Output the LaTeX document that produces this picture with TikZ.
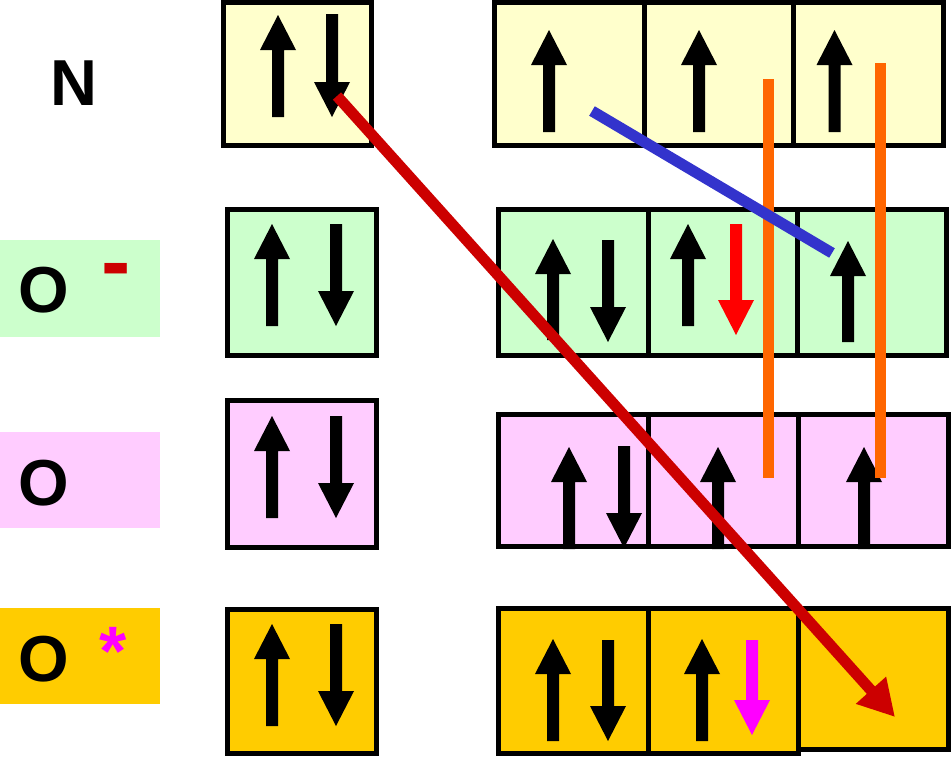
\documentclass[tikz,border=0pt]{standalone}
\usepackage{fontspec}
\setmainfont{Liberation Sans}
\usetikzlibrary{arrows.meta}
\definecolor{cN}{HTML}{FFFFCC}
\definecolor{cOm}{HTML}{CCFFCC}
\definecolor{cO}{HTML}{FFCCFF}
\definecolor{cOs}{HTML}{FFCC00}
\definecolor{cRed}{HTML}{CC0000}
\definecolor{cBright}{HTML}{FF0000}
\definecolor{cMag}{HTML}{FF00FF}
\definecolor{cOrange}{HTML}{FF6600}
\definecolor{cBlue}{HTML}{3333CC}
\newcommand\spinU[4]{\fill[#4] ({#1-6},#3) -- ({#1-6},{#2+35}) -- ({#1-18},{#2+35}) -- (#1,#2) -- ({#1+18},{#2+35}) -- ({#1+6},{#2+35}) -- ({#1+6},#3) -- cycle;}
\newcommand\spinD[4]{\fill[#4] ({#1-6},#2) -- ({#1-6},{#3-35}) -- ({#1-18},{#3-35}) -- (#1,#3) -- ({#1+18},{#3-35}) -- ({#1+6},{#3-35}) -- ({#1+6},#2) -- cycle;}
\begin{document}
\begin{tikzpicture}[x=1pt,y=-1pt,
  orb/.style={draw=black,line width=5pt,rectangle,inner sep=0pt,outer sep=0pt},
  lab/.style={rectangle,inner sep=0pt,outer sep=0pt,minimum width=160pt},
  elem/.style={inner sep=0pt,outer sep=0pt,font=\fontsize{65}{65}\selectfont\bfseries}]
\useasboundingbox (0,0) rectangle (951,756);
% label boxes
\node[lab,fill=cOm,minimum height=97pt] (lOm) at (80,288.5) {};
\node[lab,fill=cO,minimum height=96pt] (lO) at (80,480) {};
\node[lab,fill=cOs,minimum height=96pt] (lOs) at (80,656) {};
\node[elem] (tN) at (74,83) {N};
\node[elem] (tOm) at (44,290) {O};
\node[elem] (tO) at (44,483) {O};
\node[elem] (tOs) at (44,659) {O};
\node[inner sep=0pt,anchor=base,text=cRed,font=\fontsize{88}{88}\selectfont\bfseries] (mMinus) at (116,291) {-};
\node[inner sep=0pt,anchor=base,text=cMag,font=\fontsize{70}{70}\selectfont\bfseries] (mStar) at (113,675) {*};
% N
\node[orb,fill=cN,minimum width=147.5pt,minimum height=143pt] (n1) at (297.25,74) {};
\node[orb,fill=cN,minimum width=149.5pt,minimum height=143pt] (n2a) at (569.25,74) {};
\node[orb,fill=cN,minimum width=149.5pt,minimum height=143pt] (n2b) at (718.75,74) {};
\node[orb,fill=cN,minimum width=149.5pt,minimum height=143pt] (n2c) at (868.25,74) {};
% O-
\node[orb,fill=cOm,minimum width=149pt,minimum height=146pt] (m1) at (302,282.5) {};
\node[orb,fill=cOm,minimum width=149.5pt,minimum height=146pt] (m2a) at (573.25,282.5) {};
\node[orb,fill=cOm,minimum width=149pt,minimum height=146pt] (m2b) at (722.5,282.5) {};
\node[orb,fill=cOm,minimum width=149.5pt,minimum height=146pt] (m2c) at (871.75,282.5) {};
% O
\node[orb,fill=cO,minimum width=149pt,minimum height=147pt] (o1) at (302,474) {};
\node[orb,fill=cO,minimum width=149.5pt,minimum height=131.5pt] (o2a) at (573.25,480.25) {};
\node[orb,fill=cO,minimum width=150pt,minimum height=131.5pt] (o2b) at (723,480.25) {};
\node[orb,fill=cO,minimum width=150.5pt,minimum height=131.5pt] (o2c) at (873.25,480.25) {};
% O*
\node[orb,fill=cOs,minimum width=149pt,minimum height=143.5pt] (s1) at (302,681.25) {};
\node[orb,fill=cOs,minimum width=149.5pt,minimum height=144.5pt] (s2a) at (573.25,680.75) {};
\node[orb,fill=cOs,minimum width=150pt,minimum height=144.5pt] (s2b) at (723,680.75) {};
\node[orb,fill=cOs,minimum width=150.5pt,minimum height=140.5pt] (s2c) at (873.25,678.75) {};
% spins
\spinU{278}{15}{117}{black}\spinD{332}{14}{117}{black}
\spinU{272}{224}{326}{black}\spinD{336}{224}{326}{black}
\spinU{272}{416}{518}{black}\spinD{336}{416}{518}{black}
\spinU{272}{624}{726}{black}\spinD{336}{624}{726}{black}
\spinU{549}{30}{132}{black}\spinU{699}{30}{132}{black}\spinU{834.5}{30}{132}{black}
\spinU{553}{239}{340}{black}\spinD{608}{240}{342}{black}
\spinU{688}{224}{326}{black}\spinD{736}{224}{335}{cBright}
\spinU{848}{241}{342}{black}
\spinU{569}{447}{549}{black}\spinD{624}{446}{548}{black}
\spinU{718}{447}{549}{black}\spinU{864}{447}{549}{black}
\spinU{553}{639}{741}{black}\spinD{608}{640}{741}{black}
\spinU{702}{639}{741}{black}\spinD{752}{640}{735}{cMag}
% connectors
\coordinate (orA1) at (768,79);
\coordinate (orA2) at (768,478);
\coordinate (orB1) at (880,63);
\coordinate (orB2) at (880,478);
\coordinate (blA) at (592,111);
\coordinate (blB) at (832,253);
\coordinate (rdA) at (337,96);
\coordinate (rdB) at (895,717);
\draw[cOrange,line width=11pt] (orA1) -- (orA2);
\draw[cOrange,line width=11pt] (orB1) -- (orB2);
\draw[cBlue,line width=11pt] (blA) -- (blB);
\draw[cRed,line width=11pt,-{Triangle[length=36pt,width=38pt]}] (rdA) -- (rdB);
\end{tikzpicture}
\end{document}
